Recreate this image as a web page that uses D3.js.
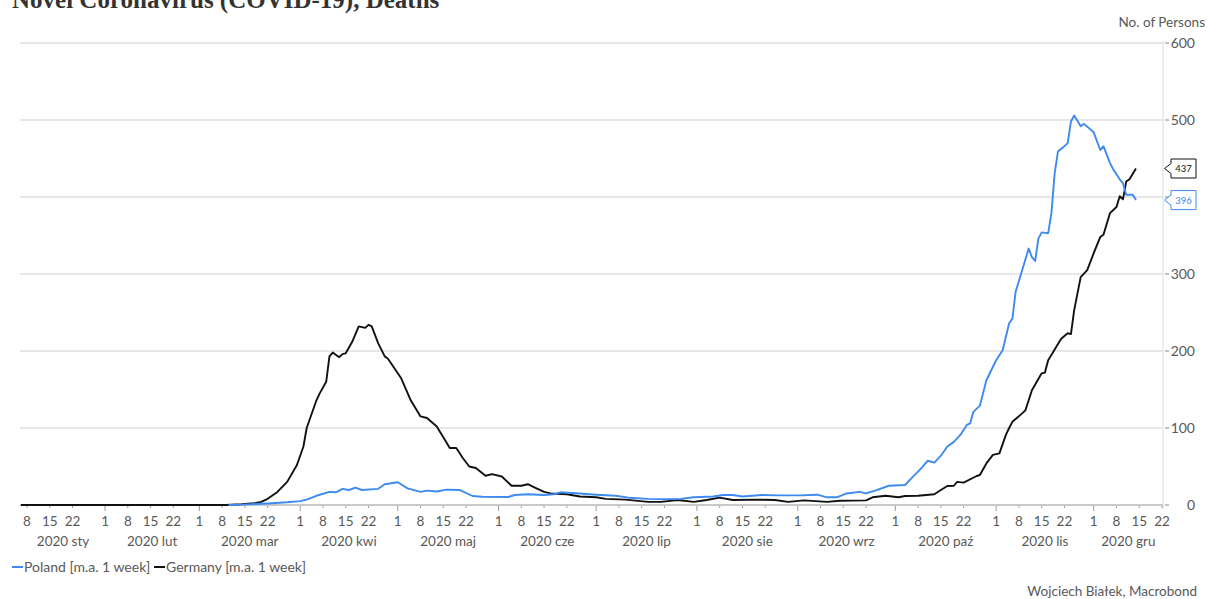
<!DOCTYPE html>
<html>
<head>
<meta charset="utf-8">
<script src="https://cdn.jsdelivr.net/npm/d3@7"></script>
<style>
  body { margin: 0; background: #fff; }
  svg { display: block; }
  text { font-family: Lato, "Noto Sans", sans-serif; fill: #595959; }
</style>
</head>
<body>
<svg id="chart" width="1207" height="599"></svg>
<script>
// values (7-day moving average of deaths)
const germanyDates = ["2020-01-06","2020-03-09","2020-03-14","2020-03-18","2020-03-20","2020-03-22","2020-03-25","2020-03-28","2020-03-31","2020-04-02","2020-04-03","2020-04-06","2020-04-07","2020-04-09","2020-04-10","2020-04-11","2020-04-13","2020-04-14","2020-04-15","2020-04-17","2020-04-19","2020-04-21","2020-04-22","2020-04-23","2020-04-25","2020-04-27","2020-04-28","2020-05-02","2020-05-05","2020-05-08","2020-05-10","2020-05-13","2020-05-17","2020-05-19","2020-05-21","2020-05-23","2020-05-25","2020-05-28","2020-05-30","2020-06-02","2020-06-05","2020-06-08","2020-06-10","2020-06-12","2020-06-15","2020-06-17","2020-06-22","2020-06-26","2020-07-01","2020-07-04","2020-07-10","2020-07-17","2020-07-21","2020-07-26","2020-07-31","2020-08-04","2020-08-08","2020-08-12","2020-08-20","2020-08-25","2020-08-29","2020-09-03","2020-09-10","2020-09-14","2020-09-22","2020-09-24","2020-09-28","2020-10-02","2020-10-04","2020-10-08","2020-10-13","2020-10-15","2020-10-17","2020-10-19","2020-10-20","2020-10-22","2020-10-26","2020-10-27","2020-10-29","2020-10-31","2020-11-02","2020-11-04","2020-11-05","2020-11-06","2020-11-09","2020-11-10","2020-11-12","2020-11-15","2020-11-16","2020-11-17","2020-11-19","2020-11-21","2020-11-23","2020-11-24","2020-11-25","2020-11-27","2020-11-29","2020-12-01","2020-12-03","2020-12-04","2020-12-06","2020-12-08","2020-12-09","2020-12-10","2020-12-11","2020-12-12","2020-12-14"];
const germanyValues = [0,0,1,2.5,4,8,17,30,52,76,100,136,145,160,193,198,192,196,197,212,232,230,234,232,210,193,190,165,136,115,113,102,74,74,61,50,48,38,40,37,25,25,27,23,17,15,14,11,10,8,7,4,4,6.5,4,6.5,9.5,6.5,7,6.5,4,6,4,5.5,6,10,12,10,11.7,12,14,19.5,24.7,25,30,29,37.7,39,54,65,67,91,100,108,119,123,149,171,172,188,202,216,223,222,253,296,305,327,348,351,379,387,401,397,420,423,437];

const polandDates = ["2020-03-10","2020-03-14","2020-03-22","2020-03-28","2020-04-01","2020-04-03","2020-04-06","2020-04-10","2020-04-12","2020-04-14","2020-04-16","2020-04-18","2020-04-20","2020-04-25","2020-04-27","2020-05-01","2020-05-04","2020-05-08","2020-05-10","2020-05-13","2020-05-16","2020-05-20","2020-05-24","2020-05-27","2020-06-04","2020-06-06","2020-06-10","2020-06-15","2020-06-18","2020-06-20","2020-06-26","2020-07-01","2020-07-07","2020-07-11","2020-07-17","2020-07-22","2020-07-27","2020-07-31","2020-08-06","2020-08-09","2020-08-12","2020-08-15","2020-08-21","2020-08-26","2020-09-02","2020-09-07","2020-09-10","2020-09-13","2020-09-16","2020-09-20","2020-09-22","2020-09-25","2020-09-29","2020-10-04","2020-10-06","2020-10-09","2020-10-11","2020-10-13","2020-10-15","2020-10-17","2020-10-19","2020-10-21","2020-10-23","2020-10-24","2020-10-25","2020-10-27","2020-10-29","2020-11-01","2020-11-03","2020-11-05","2020-11-06","2020-11-07","2020-11-09","2020-11-11","2020-11-12","2020-11-13","2020-11-14","2020-11-15","2020-11-17","2020-11-18","2020-11-19","2020-11-20","2020-11-22","2020-11-23","2020-11-24","2020-11-25","2020-11-27","2020-11-28","2020-12-01","2020-12-03","2020-12-04","2020-12-06","2020-12-07","2020-12-09","2020-12-10","2020-12-11","2020-12-13","2020-12-14"];
const polandValues = [0,0.5,2,3.5,5,7,12,17,16.5,21,19.5,22.5,19.5,21,27,29.5,21.6,17,18.6,17.5,20,19.5,11.7,10.8,10.4,13,14,13,14,16.5,15,13.4,12,9.5,8,7.5,8,10,11,13,13,11,13,12.5,12.5,13.4,10,10,15,17,15,19,25,26,35,48,57.5,55,64,76,82,91,104,106,121,129,162,188,201,236,242,277,305,333,322,317,346,354,353,379,431,459,466,470,498,506,492,495,484,461,466,444,436,423,418,403,403,396];

const monthNames = ["sty","lut","mar","kwi","maj","cze","lip","sie","wrz","paź","lis","gru"];
const tickDays = [1, 8, 15, 22];
const yTicks = [0, 100, 200, 300, 400, 500, 600];

const parse = d3.utcParse("%Y-%m-%d");
const poland = polandDates.map((d, i) => ({ date: parse(d), value: polandValues[i] }));
const germany = germanyDates.map((d, i) => ({ date: parse(d), value: germanyValues[i] }));

const svg = d3.select("#chart");
const plotLeft = 21, plotRight = 1163, plotTop = 43, plotBottom = 505;

const x = d3.scaleUtc()
  .domain([Date.UTC(2020, 0, 8), Date.UTC(2020, 11, 22)])
  .range([27, 1162]);
const y = d3.scaleLinear().domain([0, 600]).range([plotBottom, plotTop]);

const lastValues = [germany[germany.length - 1].value, poland[poland.length - 1].value];

// title, partly cut off at the top like the original
svg.append("text")
  .attr("x", 12).attr("y", 8)
  .style("font-family", "'Liberation Serif', serif")
  .style("font-weight", "bold").style("font-size", "25px")
  .style("fill", "#333")
  .text("Novel Coronavirus (COVID-19), Deaths");

svg.append("text")
  .attr("x", 1205).attr("y", 27).attr("text-anchor", "end")
  .style("font-size", "13.5px")
  .text("No. of Persons");

// gridlines
svg.append("g").selectAll("line").data(yTicks.filter(d => d > 0)).enter().append("line")
  .attr("x1", plotLeft - 1).attr("x2", plotRight)
  .attr("y1", d => y(d)).attr("y2", d => y(d))
  .attr("stroke", "#cfcfcf").attr("stroke-width", 1);

// right axis (labels hidden behind a last-value flag are skipped, as in the original)
svg.append("line")
  .attr("x1", plotRight).attr("x2", plotRight).attr("y1", plotTop - 2).attr("y2", plotBottom + 5)
  .attr("stroke", "#dcdcdc");
const ry = svg.append("g");
ry.selectAll("line").data(yTicks).enter().append("line")
  .attr("x1", plotRight + 2).attr("x2", plotRight + 6)
  .attr("y1", d => y(d)).attr("y2", d => y(d))
  .attr("stroke", "#888");
const shownTicks = yTicks.filter(t => lastValues.every(v => Math.abs(y(t) - y(v)) > 14));
ry.selectAll("text").data(shownTicks).enter().append("text")
  .attr("x", 1195).attr("y", d => y(d) + 5).attr("text-anchor", "end")
  .style("font-size", "14px")
  .text(d => d);

// bottom axis
svg.append("line")
  .attr("x1", plotLeft - 1).attr("x2", plotRight).attr("y1", plotBottom).attr("y2", plotBottom)
  .attr("stroke", "#c8c8c8").attr("stroke-width", 2);

const ticks = [];
for (let m = 0; m < 12; m++) {
  tickDays.forEach(d => {
    const t = new Date(Date.UTC(2020, m, d));
    const px = x(t);
    if (px >= plotLeft && px <= plotRight + 1) ticks.push({ date: t, day: d });
  });
}
const xt = svg.append("g");
xt.selectAll("line").data(ticks).enter().append("line")
  .attr("x1", d => x(d.date)).attr("x2", d => x(d.date))
  .attr("y1", plotBottom + 1).attr("y2", d => d.day === 1 ? plotBottom + 6 : plotBottom + 3)
  .attr("stroke", "#999");
xt.selectAll("text").data(ticks).enter().append("text")
  .attr("x", d => x(d.date)).attr("y", 526).attr("text-anchor", "middle")
  .style("font-size", "13.5px")
  .text(d => d.day);

const months = monthNames.map((name, m) => {
  const a = Math.max(x(new Date(Date.UTC(2020, m, 1))), plotLeft);
  const b = Math.min(x(new Date(Date.UTC(2020, m + 1, 1))), plotRight);
  return { name: "2020 " + name, cx: (a + b) / 2 };
});
svg.append("g").selectAll("text").data(months).enter().append("text")
  .attr("x", d => d.cx).attr("y", 546).attr("text-anchor", "middle")
  .style("font-size", "13.5px")
  .text(d => d.name);

// lines
svg.append("clipPath").attr("id", "plotClip").append("rect")
  .attr("x", plotLeft).attr("y", 0).attr("width", plotRight - plotLeft).attr("height", plotBottom + 2);
const line = d3.line().x(d => x(d.date)).y(d => y(d.value));
const series = [
  { data: germany, color: "#111111" },
  { data: poland, color: "#3d8af0" }
];
svg.append("g").attr("clip-path", "url(#plotClip)").selectAll("path").data(series).enter().append("path")
  .attr("d", d => line(d.data))
  .attr("fill", "none")
  .attr("stroke", d => d.color)
  .attr("stroke-width", 1.9)
  .attr("stroke-linejoin", "round");

// last-value flags on the right axis
function flag(last, color) {
  const py = y(last.value);
  const g = svg.append("g");
  const bx = 1171, bw = 25, bh = 19;
  g.append("path")
    .attr("d", `M${bx},${py - 5} L${bx - 6.5},${py} L${bx},${py + 5} L${bx},${py + bh / 2} L${bx + bw},${py + bh / 2} L${bx + bw},${py - bh / 2} L${bx},${py - bh / 2} Z`)
    .attr("fill", "#fff").attr("stroke", color).attr("stroke-width", 1);
  g.append("text")
    .attr("x", bx + bw / 2).attr("y", py + 3.5).attr("text-anchor", "middle")
    .style("font-size", "9.5px").style("fill", color)
    .text(Math.round(last.value));
}
flag(germany[germany.length - 1], "#111111");
flag(poland[poland.length - 1], "#3d8af0");

// legend
const legendItems = [
  { label: "Poland [m.a. 1 week]", color: "#3d8af0", x: 12 },
  { label: "Germany [m.a. 1 week]", color: "#111111", x: 154 }
];
const lg = svg.append("g").selectAll("g").data(legendItems).enter().append("g");
lg.append("line")
  .attr("x1", d => d.x).attr("x2", d => d.x + 11).attr("y1", 567).attr("y2", 567)
  .attr("stroke", d => d.color).attr("stroke-width", 2);
lg.append("text")
  .attr("x", d => d.x + 12).attr("y", 572)
  .style("font-size", "14px")
  .text(d => d.label);

svg.append("text")
  .attr("x", 1197).attr("y", 596).attr("text-anchor", "end")
  .style("font-size", "13.5px")
  .text("Wojciech Białek, Macrobond");
</script>
</body>
</html>
